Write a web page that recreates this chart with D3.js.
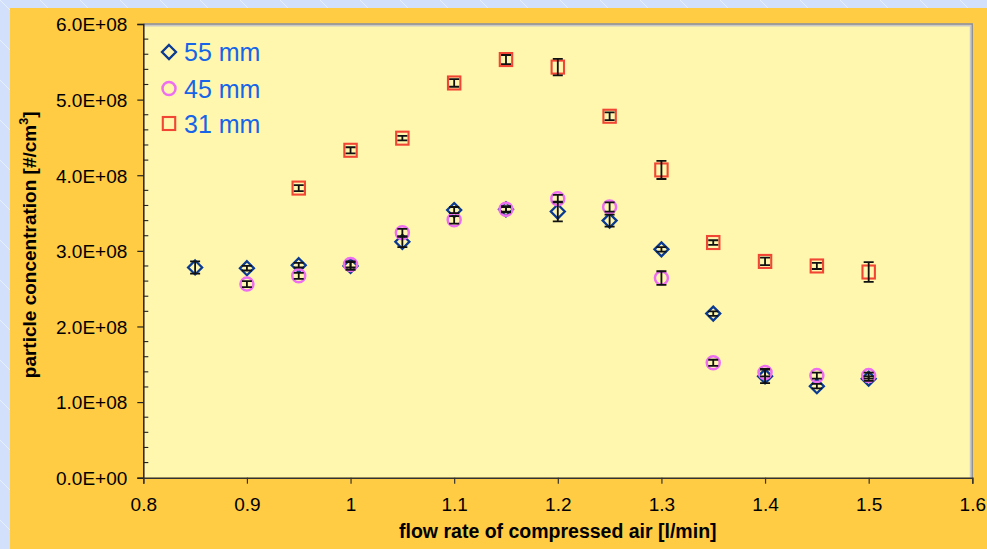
<!DOCTYPE html>
<html>
<head>
<meta charset="utf-8">
<script src="https://cdn.jsdelivr.net/npm/d3@7"></script>
<style>
  html, body { margin: 0; padding: 0; background: #d6e3fb; }
  svg { display: block; }
  text { font-family: "Liberation Sans", Arial, sans-serif; }
</style>
</head>
<body>
<svg id="chart" width="987" height="549"></svg>
<script>
// Flow rate of compressed air [l/min]
const flowRates = [0.85, 0.90, 0.95, 1.00, 1.05, 1.10, 1.15, 1.20, 1.25, 1.30, 1.35, 1.40, 1.45, 1.50];

// Particle concentration [#/cm3], in units of 1e8
const conc55 = [2.78, 2.77, 2.81, 2.80, 3.12, 3.54, 3.55, 3.52, 3.40, 3.02, 2.17, 1.34, 1.21, 1.31];
const err55  = [0.08, 0.03, 0.03, 0.05, 0.07, 0.04, 0.03, 0.13, 0.08, 0.03, 0.03, 0.09, 0.03, 0.03];

const conc45 = [null, 2.56, 2.67, 2.82, 3.24, 3.41, 3.55, 3.69, 3.58, 2.64, 1.52, 1.39, 1.35, 1.35];
const err45  = [null, 0.04, 0.04, 0.04, 0.05, 0.05, 0.04, 0.05, 0.06, 0.09, 0.04, 0.05, 0.04, 0.04];

const conc31 = [null, null, 3.83, 4.33, 4.49, 5.22, 5.53, 5.43, 4.78, 4.07, 3.11, 2.86, 2.80, 2.72];
const err31  = [null, null, 0.04, 0.04, 0.03, 0.05, 0.06, 0.11, 0.05, 0.12, 0.03, 0.05, 0.04, 0.13];

const seriesNames = ["55 mm", "45 mm", "31 mm"];

const xTicks = [0.8, 0.9, 1.0, 1.1, 1.2, 1.3, 1.4, 1.5, 1.6];
const yTicks = [0, 1, 2, 3, 4, 5, 6];

const svg = d3.select("#chart");
const W = 987, H = 549;

// slide background and chart frame
const defs = svg.append("defs");
const pat = defs.append("pattern").attr("id", "streaks")
  .attr("patternUnits", "userSpaceOnUse").attr("width", 40).attr("height", 40);
pat.append("rect").attr("width", 40).attr("height", 40).attr("fill", "#d2e0fb");
pat.append("line").attr("x1", 0).attr("y1", 0).attr("x2", 40).attr("y2", 40)
  .attr("stroke", "#e8effd").attr("stroke-width", 1);
svg.append("rect").attr("width", W).attr("height", H).attr("fill", "url(#streaks)");
svg.append("rect").attr("x", 10).attr("y", 8).attr("width", W - 10).attr("height", H - 8)
  .attr("fill", "#ffcc44");

const plot = { left: 143.3, right: 972.3, top: 24, bottom: 477.7 };

const x = d3.scaleLinear().domain([0.8, 1.6]).range([plot.left, plot.right]);
const y = d3.scaleLinear().domain([0, 6]).range([plot.bottom, plot.top]);

// plot area
svg.append("rect")
  .attr("x", plot.left).attr("y", plot.top)
  .attr("width", plot.right - plot.left).attr("height", plot.bottom - plot.top)
  .attr("fill", "#fff7ae");
svg.append("path")
  .attr("d", `M${plot.left},${plot.top + 1}H${plot.right - 1}V${plot.bottom}`)
  .attr("fill", "none").attr("stroke", "#c9c9c9").attr("stroke-width", 3);
svg.append("path")
  .attr("d", `M${plot.left},${plot.top}H${plot.right}V${plot.bottom}`)
  .attr("fill", "none").attr("stroke", "#8f8f8f").attr("stroke-width", 1.3);

// y axis: major ticks outside, minor ticks inside
const yAxis = svg.append("g").attr("transform", `translate(${plot.left},0)`)
  .call(d3.axisLeft(y).tickValues(yTicks).tickSize(6).tickPadding(10)
    .tickFormat(d => d === 0 ? "0.0E+00" : d.toFixed(1) + "E+08"));
yAxis.select(".domain").attr("stroke", "#222").attr("stroke-width", 1.5);
yAxis.selectAll(".tick line").attr("stroke", "#222").attr("stroke-width", 1.2);
yAxis.selectAll(".tick text").attr("font-size", 19).attr("fill", "#000")
  .attr("font-family", "'Liberation Sans', Arial, sans-serif").attr("dy", "0.36em");

const minorY = d3.range(0, 6.0001, 0.2).filter(v => Math.abs(v - Math.round(v)) > 1e-6);
svg.append("g").selectAll("line").data(minorY).join("line")
  .attr("x1", plot.left).attr("x2", plot.left + 5)
  .attr("y1", d => y(d)).attr("y2", d => y(d))
  .attr("stroke", "#222").attr("stroke-width", 1.1);

// x axis
const xAxis = svg.append("g").attr("transform", `translate(0,${plot.bottom})`)
  .call(d3.axisBottom(x).tickValues(xTicks).tickSize(6).tickPadding(14)
    .tickFormat(d => String(+d.toFixed(1))));
xAxis.select(".domain").attr("stroke", "#333").attr("stroke-width", 1.5);
xAxis.selectAll(".tick line").attr("stroke", "#333").attr("stroke-width", 1.2);
xAxis.selectAll(".tick text").attr("font-size", 19).attr("fill", "#000")
  .attr("font-family", "'Liberation Sans', Arial, sans-serif");

// axis titles
svg.append("text")
  .attr("x", (plot.left + plot.right) / 2).attr("y", 537.5)
  .attr("text-anchor", "middle").attr("font-size", 19.5).attr("font-weight", "bold")
  .text("flow rate of compressed air [l/min]");

const yTitle = svg.append("text")
  .attr("transform", `translate(36,${(plot.top + plot.bottom) / 2 - 6}) rotate(-90)`)
  .attr("text-anchor", "middle").attr("font-size", 19).attr("font-weight", "bold");
yTitle.append("tspan").text("particle concentration [#/cm");
yTitle.append("tspan").attr("font-size", 12.5).attr("dy", -8).text("3");
yTitle.append("tspan").attr("dy", 8).text("]");

// markers
const styles = [
  { color: "#0a3a91", shape: "diamond" },
  { color: "#ee6ef0", shape: "circle" },
  { color: "#f24634", shape: "square" }
];

function drawMarker(g, shape, color, cx, cy) {
  if (shape === "diamond") {
    g.append("path")
      .attr("d", `M${cx},${cy - 7}L${cx + 7},${cy}L${cx},${cy + 7}L${cx - 7},${cy}Z`)
      .attr("fill", "none").attr("stroke", color).attr("stroke-width", 2.3);
  } else if (shape === "circle") {
    g.append("circle").attr("cx", cx).attr("cy", cy).attr("r", 6.5)
      .attr("fill", "none").attr("stroke", color).attr("stroke-width", 2.5);
  } else {
    g.append("rect").attr("x", cx - 6.2).attr("y", cy - 6.5).attr("width", 12.4).attr("height", 13)
      .attr("fill", "none").attr("stroke", color).attr("stroke-width", 2.1);
  }
}

const allSeries = [
  { values: conc55, errors: err55 },
  { values: conc45, errors: err45 },
  { values: conc31, errors: err31 }
];

const markLayer = svg.append("g");
allSeries.forEach((s, i) => {
  flowRates.forEach((f, j) => {
    if (s.values[j] == null) return;
    drawMarker(markLayer, styles[i].shape, styles[i].color, x(f), y(s.values[j]));
  });
});

// error bars on top of the markers
const errLayer = svg.append("g").attr("stroke", "#111").attr("stroke-width", 1.8).attr("fill", "none");
allSeries.forEach(s => {
  flowRates.forEach((f, j) => {
    if (s.values[j] == null) return;
    const cx = x(f), y1 = y(s.values[j] + s.errors[j]), y0 = y(s.values[j] - s.errors[j]);
    errLayer.append("path")
      .attr("d", `M${cx},${y1}V${y0}M${cx - 5},${y1}H${cx + 5}M${cx - 5},${y0}H${cx + 5}`);
  });
});

// legend
const legend = svg.append("g");
const legendBase = [61, 97.5, 132.5];
seriesNames.forEach((name, i) => {
  drawMarker(legend, styles[i].shape, styles[i].color, 169, legendBase[i] - 9);
  legend.append("text").attr("x", 184).attr("y", legendBase[i])
    .attr("font-size", 25).attr("fill", "#1664e8").text(name);
});
</script>
</body>
</html>
